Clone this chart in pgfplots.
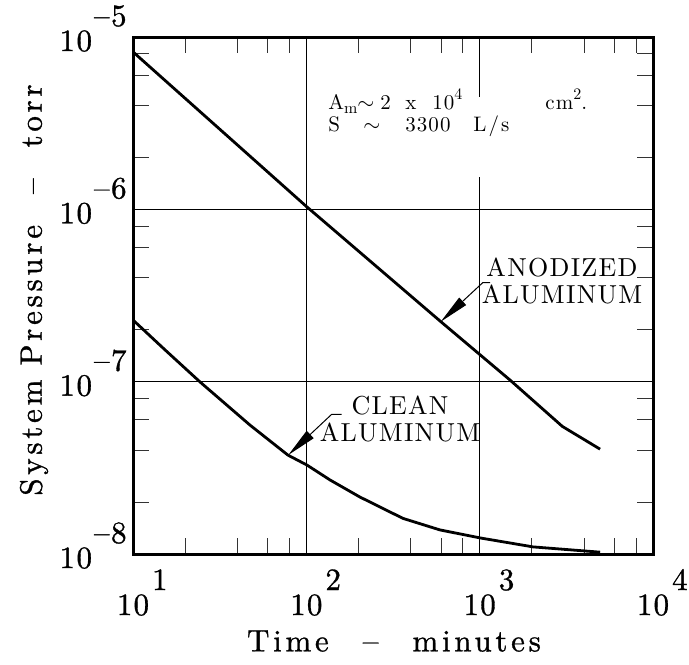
\documentclass[border=0pt]{standalone}
\usepackage{fontspec}
\usepackage{pgfplots}
\pgfplotsset{compat=1.18}
\usetikzlibrary{arrows.meta}
\newfontfamily\labfont{lmroman10-regular}[Extension=.otf, LetterSpace=12, FakeBold=1]
\newfontfamily\tickfont{lmroman10-regular}[Extension=.otf, LetterSpace=5, FakeBold=1]
\newfontfamily\notefont{lmroman10-regular}[Extension=.otf, LetterSpace=5]
\newcommand{\xt}[1]{1\kern0.6pt0\rlap{\raisebox{12.5pt}{\kern1.5pt#1}}}
\newcommand{\yt}[1]{10\raisebox{12.5pt}{\kern1pt\textendash#1}}
\newcommand{\sml}{\fontsize{8}{9}\selectfont}

\begin{document}
\begin{tikzpicture}
\begin{axis}[
  at={(0,0)}, anchor=south west,
  scale only axis, width=260pt, height=258.5pt,
  xmode=log, ymode=log,
  xmin=10, xmax=10000, ymin=1e-8, ymax=1e-5,
  xtick={10,100,1000,10000},
  xticklabels={\xt{1},\xt{2},\xt{3},\xt{4}},
  ytick={1e-8,1e-7,1e-6,1e-5},
  yticklabels={\yt{8},\yt{7},\yt{6},\yt{5}},
  minor xtick={20,40,60,80,200,400,600,800,2000,4000,6000,8000},
  minor ytick={2e-8,4e-8,6e-8,8e-8,2e-7,4e-7,6e-7,8e-7,2e-6,4e-6,6e-6,8e-6},
  grid=major,
  major grid style={black, line width=0.5pt},
  tick align=inside,
  major tick length=0pt,
  minor tick length=8pt,
  minor tick style={black!80, line width=0.5pt},
  axis line style={black, line width=1.5pt},
  xticklabel style={font={\tickfont\fontsize{15.5}{17}\selectfont}, anchor=base, inner sep=0pt, yshift=-30.5pt},
  yticklabel style={font={\tickfont\fontsize{15.5}{17}\selectfont}, anchor=base east, inner sep=0pt, xshift=-3pt, yshift=-7pt},
  clip=false,
]
% anodized aluminum
\addplot[black, line width=1.4pt, line join=round] coordinates {
  (10,8.2e-6) (100,1.04e-6) (600,2.22e-7) (1500,1.02e-7) (3000,5.5e-8) (4950,4.06e-8)
};
% clean aluminum
\addplot[black, line width=1.4pt, line join=round] coordinates {
  (10,2.28e-7) (15.3,1.53e-7) (24.4,9.95e-8) (47.3,5.6e-8) (78.3,3.75e-8)
  (101,3.28e-8) (137,2.69e-8) (204,2.14e-8) (361,1.61e-8) (590,1.38e-8)
  (1005,1.24e-8) (2032,1.10e-8) (4956,1.025e-8)
};
\end{axis}
\fill[white] (169pt,188.5pt) rectangle (178pt,228.5pt);
\node[anchor=base west, inner sep=0pt, font={\notefont\fontsize{10.5}{12}\selectfont}] at (97.5pt,222.3pt)
  {\makebox[26pt][l]{A\raisebox{-0.45ex}{\sml m}$\sim$}\makebox[12.5pt][l]{2}\makebox[13.5pt][l]{x}\makebox[56.5pt][l]{10\raisebox{1.1ex}{\sml 4}}cm\raisebox{1.1ex}{\sml 2}.};
\node[anchor=base west, inner sep=0pt, font={\notefont\fontsize{10.5}{12}\selectfont}] at (97.5pt,211.2pt)
  {\makebox[17.5pt][l]{S}\makebox[21pt][l]{$\sim$}\makebox[34pt][l]{3300}L\kern1pt/\kern1pt s};
\node[rotate=90, font={\labfont\fontsize{15.5}{17}\selectfont}] at (-49.5pt,132pt) {System Pressure\hspace{1em}\textendash\hspace{1em}torr};
\node[font={\labfont\fontsize{15.5}{17}\selectfont}] at (130.5pt,-43.5pt) {Time\hspace{1.1em}\textendash\hspace{1.1em}minutes};
\draw[line width=0.5pt, -{Triangle[length=15pt,width=5pt]}] (178.5pt,135.65pt) -- (174.85pt,135.65pt) -- (153.85pt,116.15pt);
\draw[line width=0.5pt, -{Triangle[length=15pt,width=5pt]}] (104.35pt,69.85pt) -- (99.35pt,69.85pt) -- (77.65pt,49.5pt);
\node[align=center, inner sep=0pt, font={\notefont\fontsize{13}{13.7}\selectfont}] at (214.5pt,136.5pt) {ANODIZED\\ALUMINUM};
\node[align=center, inner sep=0pt, font={\notefont\fontsize{13}{13.7}\selectfont}] at (133.5pt,67.5pt) {CLEAN\\ALUMINUM};
\pgfresetboundingbox
\path[use as bounding box] (-66.5pt,-55pt) rectangle (278pt,277pt);
\end{tikzpicture}
\end{document}
